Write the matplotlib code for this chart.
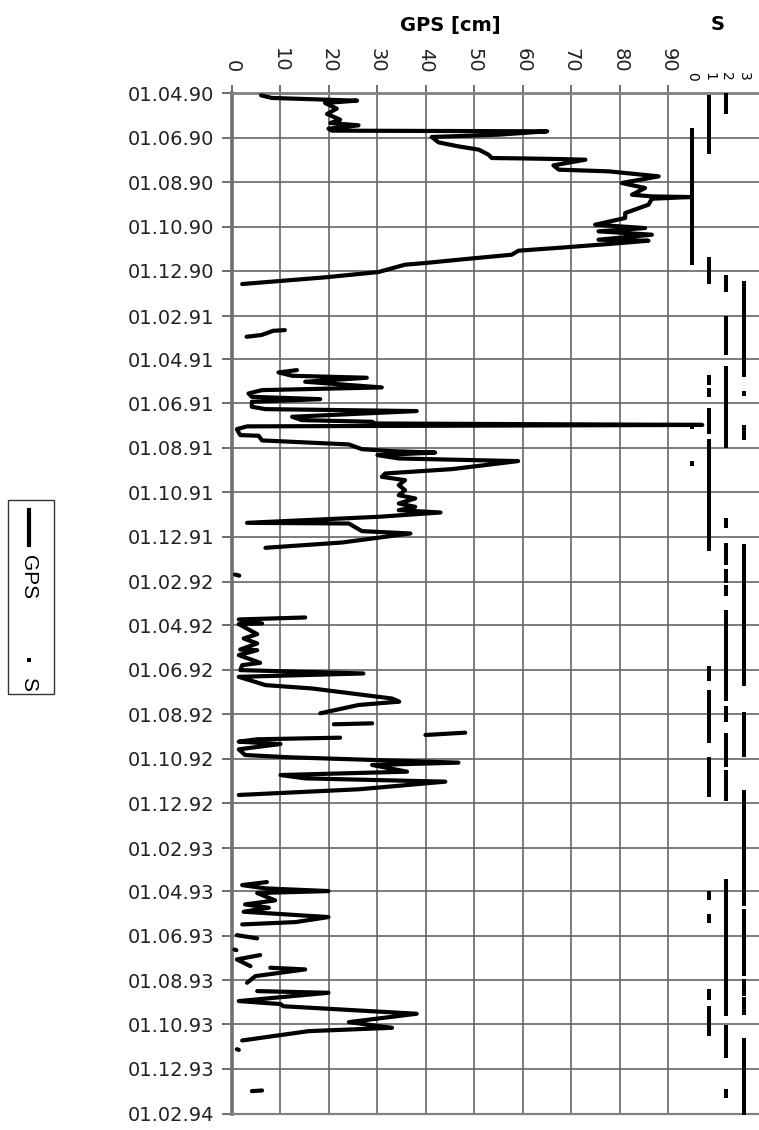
import datetime as dt
import numpy as np
import matplotlib
matplotlib.use("Agg")
import matplotlib.pyplot as plt
import matplotlib.dates as mdates
from matplotlib.lines import Line2D
from matplotlib.patches import Rectangle

START = dt.datetime(1990, 4, 1)
END = dt.datetime(1994, 2, 1)

# GPS: day offset from 01.04.90 and value in cm (None = gap in the record)
gps_day = [
    2.8, 6.4, 10.1, 13.3, 21.1, 28.4, 36.2, 40.8, 44.0, 48.6, 51.3, 52.2, 56.8,
    60.0, 67.4, 72.9, 77.4, 84.3, 88.9, 89.5, 90.3, 91.2, 99.0, 104.9, 107.2,
    114.1, 123.2, 130.1, 139.3, 141.6, 142.5, 144.8, 153.0, 164.5, 171.3, 180.5,
    185.1, 189.6, 194.2, 201.1, 202.5, 207.0, 211.6, 216.2, 221.7, 228.6, 233.1,
    235.4, 245.5, 252.8, 262.0, None,
    325.3, 326.2, 332.0, 334.4, None,
    380.2, 383.4, 388.0, 390.7, 396.2, 404.0, 407.7, 412.3, 416.9, 420.1, 423.7,
    430.6, 433.8, 436.5, 444.3, 448.9, 451.2, 453.5, 455.5, 457.5, 461.3, 469.5,
    470.4, 476.8, 482.3, 488.8, 491.5, 493.5, 497.0, 501.6, 505.2, 516.2, 522.2,
    526.8, 531.4, 538.2, 545.1, 552.0, 556.5, 563.4, 568.0, 572.6, 575.8, 581.7,
    590.0, 590.9, 601.4, 604.6, 617.0, 624.3, None,
    661.0, 662.5, None,
    720.0, 722.7, 728.2, 729.1, 742.9, 748.8, 755.7, 764.0, 764.9, 771.7, 782.3,
    785.5, 792.3, 796.9, 801.5, 812.9, 817.5, 831.3, 835.6, 840.2, 851.6, None,
    865.4, 866.7, None,
    878.2, 881.4, None,
    885.1, 887.3, 890.6, 893.8, 901.1, 908.9, 912.1, 919.4, 922.6, 931.8, 936.4,
    941.0, 945.5, 956.0, 963.8, None,
    1083.4, 1087.6, 1092.1, 1095.8, 1098.5, 1108.6, 1114.1, 1118.7, 1124.2,
    1131.5, 1138.4, 1141.6, None,
    1156.3, 1160.8, None,
    1176.0, 1177.0, None,
    1183.7, 1189.7, 1198.9, None,
    1201.1, 1203.4, 1212.6, 1221.8, None,
    1233.2, 1235.5, 1246.9, 1251.0, 1254.0, 1264.3, 1275.8, 1283.6, 1288.2,
    1301.0, None,
    1313.0, 1314.0, None,
    1369.7, 1370.6,
]
gps_cm = [
    6.0, 8.2, 25.8, 19.2, 21.6, 19.6, 22.3, 20.3, 26.1, 19.9, 20.6, 65.0, 55.0,
    41.2, 42.6, 46.7, 50.9, 52.9, 53.6, 60.5, 67.4, 72.9, 66.3, 67.4, 77.7,
    88.0, 80.4, 85.2, 82.5, 86.6, 94.5, 86.6, 85.9, 81.1, 81.1, 74.9,
    85.2, 75.6, 86.6, 75.6, 85.9, 77.7, 68.7, 59.1, 57.7, 46.7, 39.9,
    35.7, 30.2, 19.2, 2.1, None,
    10.9, 8.5, 6.1, 3.0, None,
    13.4, 9.6, 12.4, 27.8, 15.1, 30.9, 6.2, 3.4, 4.1, 18.2, 4.1,
    4.1, 6.9, 38.1, 12.4, 14.4, 28.9, 29.5, 97.0, 3.1, 1.0, 1.7,
    5.5, 6.2, 24.1, 26.8, 33.0, 41.9, 30.0, 34.4, 59.0, 45.4, 31.6,
    30.9, 35.7, 34.4, 35.7, 34.4, 37.8, 34.4, 37.8, 34.4, 43.0, 30.2,
    3.1, 24.1, 26.8, 36.8, 22.7, 6.9, None,
    0.6, 1.5, None,
    15.1, 1.4, 6.2, 1.4, 5.2, 2.4, 5.2, 1.7, 5.2, 1.4, 5.8,
    2.1, 1.7, 27.1, 1.4, 6.9, 16.5, 33.0, 34.5, 26.1, 18.2, None,
    28.9, 21.0, None,
    48.1, 39.9, None,
    22.3, 5.2, 1.4, 10.0, 1.4, 2.7, 12.0, 46.7, 28.9, 36.1, 10.0,
    15.1, 44.0, 26.1, 1.4, None,
    7.2, 2.1, 6.9, 19.9, 5.2, 8.9, 2.7, 7.6, 2.4,
    19.9, 13.1, 2.1, None,
    1.0, 5.2, None,
    0.5, 0.9, None,
    5.8, 1.0, 3.8, None,
    7.9, 15.1, 4.8, 3.1, None,
    5.2, 19.9, 1.4, 10.0, 10.6, 38.1, 24.1, 33.0, 15.8,
    2.1, None,
    1.0, 1.4, None,
    6.2, 4.1,
]

# S: daily class values, recorded as runs of days with the same value
s_start = [50, 458, 508,
           5, 227, 389, 408, 435, 478, 790, 823, 914, 1098, 1130, 1233, 1256,
           0, 252, 309, 323, 378, 586, 620, 656, 678, 713, 845, 882, 932, 1082,
           1283, 1370,
           261, 412, 458, 622, 726, 800, 852, 960, 1123, 1174, 1196, 1219, 1244,
           1301]
s_end = [233, 459, 509,
         80, 259, 398, 414, 465, 626, 804, 889, 964, 1105, 1137, 1242, 1292,
         26, 270, 318, 357, 485, 595, 645, 670, 688, 832, 861, 923, 969, 1265,
         1322, 1377,
         387, 413, 474, 722, 795, 811, 909, 1114, 1169, 1192, 1210, 1237, 1263,
         1402]
s_value = [0, 0, 0,
           1, 1, 1, 1, 1, 1, 1, 1, 1, 1, 1, 1, 1,
           2, 2, 2, 2, 2, 2, 2, 2, 2, 2, 2, 2, 2, 2, 2, 2,
           3, 3, 3, 3, 3, 3, 3, 3, 3, 3, 3, 3, 3, 3]

gps_ticks = [0, 10, 20, 30, 40, 50, 60, 70, 80, 90]
s_ticks = [0, 1, 2, 3]

W, H = 759, 1130
t0 = mdates.date2num(START)

gps_y = np.array(gps_day, dtype=float) + t0
gps_x = np.array(gps_cm, dtype=float)

s_y, s_x = [], []
for a, b, v in zip(s_start, s_end, s_value):
    d = np.arange(a, b + 1)
    s_y.append(d + t0)
    s_x.append(np.full(len(d), v))
s_y = np.concatenate(s_y)
s_x = np.concatenate(s_x)

plt.rcParams["font.family"] = "DejaVu Sans"
fig = plt.figure(figsize=(W / 100, H / 100), dpi=100)
ax = fig.add_axes([232 / W, 1 - 1114 / H, 1 - 232 / W, (1114 - 93.3) / H])

ax.plot(gps_x, gps_y, color="black", lw=3.0, solid_capstyle="round",
        solid_joinstyle="round", zorder=3)

ax.set_xlim(0, 108.7)
ax.set_ylim(mdates.date2num(END), t0)
ax.set_xticks(gps_ticks)
ax.yaxis.set_major_locator(mdates.MonthLocator(bymonth=[2, 4, 6, 8, 10, 12]))
ax.yaxis.set_major_formatter(mdates.DateFormatter("%d.%m.%y"))
ax.grid(True, color="#666666", lw=1.2, zorder=1)
ax.set_axisbelow(True)

# secondary scale for S
ax2 = ax.twiny()
ax2.plot(s_x, s_y, ls="none", marker="s", ms=3.4, color="black", mew=0,
         zorder=4)
ax2.set_xlim(-26.8, 3.9)
ax2.set_xticks(s_ticks)
ax2.tick_params(axis="x", top=True, bottom=False, labeltop=True,
                labelbottom=False, length=0, pad=9, labelrotation=-90,
                labelsize=10)
for sp in ax2.spines.values():
    sp.set_visible(False)

# GPS scale on top as well (twiny moved it to the bottom)
ax.xaxis.tick_top()
ax.tick_params(axis="y", length=7, width=1.2, color="#555555", pad=6,
               labelsize=14, labelcolor="#222222")
ax.tick_params(axis="x", top=True, bottom=False, labeltop=True,
               labelbottom=False, labelrotation=-90, length=6, width=1.2,
               color="#555555", pad=9, labelsize=14, labelcolor="#222222")

ax.spines["right"].set_visible(False)
ax.spines["left"].set_color("#707070")
ax.spines["left"].set_linewidth(2.6)
ax.spines["top"].set_color("#808080")
ax.spines["top"].set_linewidth(2.0)
ax.spines["bottom"].set_color("#808080")
ax.spines["bottom"].set_linewidth(1.6)

fig.text(450 / W, 1 - 25 / H, "GPS [cm]", fontsize=14, fontweight="bold",
         ha="center", va="center")
fig.text(718 / W, 1 - 25 / H, "S", fontsize=14, fontweight="bold",
         ha="center", va="center")

# rotated legend on the left
def px(x, y):
    return x / W, 1 - y / H

x0, y0 = px(8, 694)
x1, y1 = px(54, 500)
fig.add_artist(Rectangle((x0, y0), x1 - x0, y1 - y0, transform=fig.transFigure,
                         fill=False, edgecolor="#333333", lw=1.0))
fig.add_artist(Line2D([29 / W, 29 / W], [1 - 510 / H, 1 - 545 / H],
                      transform=fig.transFigure, color="black", lw=3.0))
fig.text(*px(29, 577), "GPS", rotation=-90, ha="center", va="center",
         fontsize=15, family="Liberation Sans")
fig.add_artist(Line2D([29 / W], [1 - 660 / H], transform=fig.transFigure,
                      marker="s", ms=3.4, color="black", ls="none", mew=0))
fig.text(*px(29, 684), "S", rotation=-90, ha="center", va="center",
         fontsize=15, family="Liberation Sans")

fig.savefig("out.png", dpi=100)
